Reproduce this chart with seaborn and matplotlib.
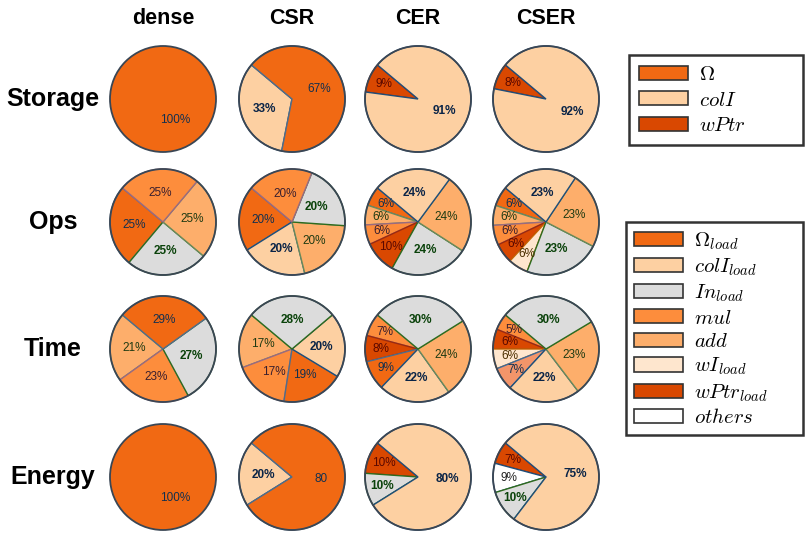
import numpy as np
import matplotlib
matplotlib.use("Agg")
import matplotlib.pyplot as plt
from matplotlib.patches import Patch, Circle
import seaborn as sns

sns.set_style("white")
plt.rcParams['font.family'] = ['Liberation Sans', 'DejaVu Sans']
plt.rcParams['mathtext.fontset'] = 'cm'
plt.rcParams['text.color'] = 'black'

# column / row names
columns = ['dense', 'CSR', 'CER', 'CSER']
rows = ['Storage', 'Ops', 'Time', 'Energy']

# slices per pie, counter-clockwise starting from the upper left
storage_cats = [['omega'], ['colI', 'omega'], ['wPtr', 'colI'], ['wPtr', 'colI']]
storage_vals = [[100], [33, 67], [9, 91], [8, 92]]

ops_cats = [['omega', 'In', 'add', 'mul'],
            ['omega', 'colI', 'add', 'In', 'mul'],
            ['omega', 'add', 'mul', 'wPtr', 'In', 'add', 'colI'],
            ['omega', 'add', 'mul', 'wPtr', 'wI', 'In', 'add', 'colI']]
ops_vals = [[25, 25, 25, 25],
            [20, 20, 20, 20, 20],
            [6, 6, 6, 10, 24, 24, 24],
            [6, 6, 6, 6, 6, 23, 23, 23]]

time_cats = [['add', 'mul', 'In', 'omega'],
             ['add', 'mul', 'omega', 'colI', 'In'],
             ['mul', 'wPtr', 'omega', 'colI', 'add', 'In'],
             ['mul', 'wPtr', 'wI', 'salmon', 'colI', 'add', 'In']]
time_vals = [[21, 23, 27, 29],
             [17, 17, 19, 20, 28],
             [7, 8, 9, 22, 24, 30],
             [5, 6, 6, 7, 22, 23, 30]]

energy_cats = [['omega'], ['colI', 'omega'], ['wPtr', 'In', 'colI'],
               ['wPtr', 'others', 'In', 'colI']]
energy_vals = [[100], [20, 80], [10, 10, 80], [7, 9, 10, 75]]
energy_text = [['100%'], ['20%', '80'], ['10%', '10%', '80%'], ['7%', '9%', '10%', '75%']]

# colour scheme (ColorBrewer Oranges)
oranges = sns.color_palette(["#fee6ce", "#fdd0a2", "#fdae6b", "#fd8d3c", "#f16913", "#d94801"]).as_hex()
fill = {'omega': oranges[4], 'colI': oranges[1], 'In': '#dcdcdc', 'mul': oranges[3],
        'add': oranges[2], 'wI': oranges[0], 'wPtr': oranges[5], 'others': '#ffffff',
        'salmon': '#f3956a'}
edge = {'omega': '#4f6d8a', 'colI': '#1f4e79', 'In': '#2e6b1e', 'mul': '#9a6a80',
        'add': '#6a8a5a', 'wI': '#c86400', 'wPtr': '#9a2a10', 'others': '#1f4e79',
        'salmon': '#3a6a9a'}
txt = {'omega': '#13304f', 'colI': '#0a2447', 'In': '#0a420a', 'mul': '#3a1f2e',
       'add': '#1f3a12', 'wI': '#4a2e00', 'wPtr': '#5a0800', 'others': '#222222',
       'salmon': '#13304f'}

W, H = 810, 534
fig = plt.figure(figsize=(W / 100, H / 100), dpi=100)

col_x = [163, 292, 418, 546]
row_y = [99, 222, 349, 477]
R = 53

all_cats = [storage_cats, ops_cats, time_cats, energy_cats]
all_vals = [storage_vals, ops_vals, time_vals, energy_vals]

for i in range(4):
    for j in range(4):
        cats = all_cats[i][j]
        vals = all_vals[i][j]
        if i == 3:
            labels = energy_text[j]
        else:
            labels = [f"{v}%" for v in vals]
        cx, cy = col_x[j], row_y[i]
        rr = R * 1.04
        ax = fig.add_axes([(cx - rr) / W, 1 - (cy + rr) / H, 2 * rr / W, 2 * rr / H])
        single = len(vals) == 1
        wedges, _ = ax.pie(vals, colors=[fill[c] for c in cats], startangle=140,
                           counterclock=True, radius=1,
                           wedgeprops=dict(linewidth=0 if single else 1.0))
        for w, c in zip(wedges, cats):
            w.set_edgecolor(edge[c])
        # percentage labels
        for w, c, lab, v in zip(wedges, cats, labels, vals):
            if single:
                ang, d = np.deg2rad(300), 0.45
            else:
                ang = np.deg2rad((w.theta1 + w.theta2) / 2)
                d = 0.7 if v <= 10 else 0.55
            ax.text(d * np.cos(ang), d * np.sin(ang), lab, ha='center', va='center',
                    fontsize=8.5, color=txt[c],
                    weight='bold' if c in ('colI', 'In') else 'normal')
        ax.add_patch(Circle((0, 0), 1.0, fill=False, edgecolor='#3a4654', lw=1.3))
        ax.set_xlim(-1.04, 1.04)
        ax.set_ylim(-1.04, 1.04)
        ax.set_aspect('equal')
        ax.axis('off')

# headers and row names
for j, name in enumerate(columns):
    fig.text(col_x[j] / W, 1 - 18 / H, name, ha='center', va='center',
             fontsize=15.5, weight='bold')
for i, name in enumerate(rows):
    fig.text(53 / W, 1 - row_y[i] / H, name, ha='center', va='center',
             fontsize=18, weight='bold')

# legends
leg1_cats = ['omega', 'colI', 'wPtr']
leg1_labels = [r'$\Omega$', r'$colI$', r'$wPtr$']
leg2_cats = ['omega', 'colI', 'In', 'mul', 'add', 'wI', 'wPtr', 'others']
leg2_labels = [r'$\Omega_{load}$', r'$colI_{load}$', r'$In_{load}$', r'$mul$',
               r'$add$', r'$wI_{load}$', r'$wPtr_{load}$', r'$others$']

h1 = [Patch(facecolor=fill[c], edgecolor='#333333', lw=1.2) for c in leg1_cats]
h2 = [Patch(facecolor=fill[c], edgecolor='#333333', lw=1.2) for c in leg2_cats]

leg1 = fig.legend(h1, leg1_labels, loc='upper left',
                  bbox_to_anchor=(629 / W, 1 - 55 / H - 0.01, 174 / W, 0.01), mode='expand',
                  borderaxespad=0, fontsize=15, handlelength=2.35, handleheight=0.67,
                  labelspacing=0.3, fancybox=False, edgecolor='black',
                  handletextpad=0.5, borderpad=0.5)
leg1.get_frame().set_linewidth(1.8)

leg2 = fig.legend(h2, leg2_labels, loc='upper left',
                  bbox_to_anchor=(626 / W, 1 - 222 / H - 0.01, 177 / W, 0.01), mode='expand',
                  borderaxespad=0, fontsize=15, handlelength=2.35, handleheight=0.67,
                  labelspacing=0.22, fancybox=False, edgecolor='black',
                  handletextpad=0.5, borderpad=0.4)
leg2.get_frame().set_linewidth(1.8)

fig.savefig("out.png", dpi=100)
